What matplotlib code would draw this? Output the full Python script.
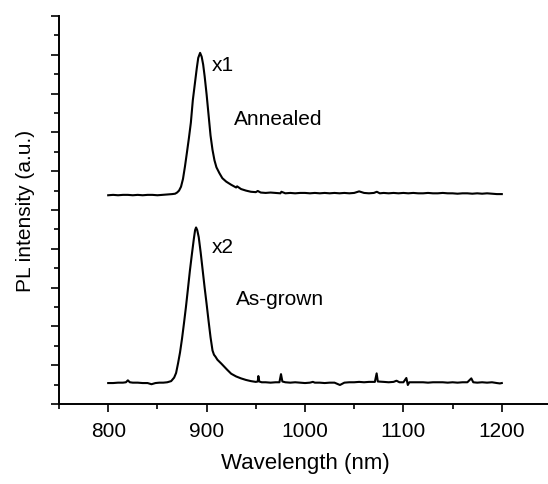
import matplotlib
matplotlib.use("Agg")
import matplotlib.pyplot as plt
from matplotlib.ticker import MultipleLocator, NullFormatter

plt.rcParams['font.family'] = ['Liberation Sans', 'DejaVu Sans']

# Annealed spectrum (offset upward)
wl_ann = [800, 805, 810, 815, 820, 825, 830, 835, 840, 845, 850, 855, 860, 865,
          868, 870, 872, 874, 876, 878, 880, 882, 884, 886, 888, 890, 891.5, 893.4,
          895, 896.5, 898, 900, 902, 904, 906, 908, 910, 913, 916, 920, 925,
          930, 931, 935, 940, 945, 950, 952, 955, 960, 965, 970, 975, 976,
          980, 985, 990, 995, 1000, 1005, 1010, 1015, 1020, 1025, 1030, 1035,
          1040, 1045, 1050, 1055, 1060, 1065, 1070, 1073, 1076, 1080, 1085,
          1090, 1095, 1100, 1105, 1110, 1115, 1120, 1125, 1130, 1135, 1140,
          1145, 1150, 1155, 1160, 1165, 1170, 1175, 1180, 1185, 1190, 1195, 1200]
pl_ann = [5.38, 5.39, 5.38, 5.39, 5.39, 5.38, 5.39, 5.38, 5.39, 5.39, 5.38, 5.39,
          5.40, 5.41, 5.42, 5.45, 5.50, 5.60, 5.80, 6.12, 6.48, 6.85, 7.25, 7.83,
          8.24, 8.65, 8.92, 9.05, 8.95, 8.75, 8.45, 7.98, 7.45, 6.92, 6.55, 6.28,
          6.10, 5.95, 5.82, 5.73, 5.65, 5.58, 5.61, 5.54, 5.50, 5.47, 5.46, 5.49,
          5.45, 5.44, 5.45, 5.44, 5.43, 5.47, 5.43, 5.44, 5.43, 5.44, 5.44, 5.43,
          5.44, 5.43, 5.44, 5.43, 5.44, 5.43, 5.44, 5.43, 5.44, 5.48, 5.44, 5.43,
          5.44, 5.47, 5.43, 5.44, 5.43, 5.44, 5.43, 5.44, 5.43, 5.44, 5.43, 5.43,
          5.44, 5.43, 5.43, 5.44, 5.43, 5.43, 5.42, 5.43, 5.43, 5.42, 5.43, 5.42,
          5.43, 5.42, 5.41, 5.41]

# As-grown spectrum
wl_asg = [800, 805, 810, 815, 818, 820, 822, 825, 830, 835, 840, 844, 848, 852,
          856, 860, 864, 867, 869, 871, 873, 875, 877, 879, 881, 883, 885, 887,
          888.3, 889.3, 890.5, 892, 894, 896, 898, 900, 902, 904, 906, 907.5,
          909, 911, 913, 915, 918, 921, 925, 930, 935, 940, 945, 950, 952,
          952.6, 953.5, 956, 960, 965, 970, 974, 975.6, 977, 980, 985, 990, 995,
          1000, 1005, 1008, 1010, 1015, 1020, 1025, 1030, 1035.5, 1040, 1045,
          1050, 1055, 1060, 1065, 1071, 1072.8, 1074, 1080, 1085, 1090, 1093,
          1096, 1100, 1103, 1104.5, 1106, 1110, 1115, 1120, 1125, 1130, 1135,
          1140, 1145, 1150, 1155, 1160, 1165, 1169, 1171, 1175, 1180, 1185,
          1190, 1195, 1198, 1200]
pl_asg = [0.54, 0.54, 0.55, 0.55, 0.56, 0.61, 0.56, 0.55, 0.55, 0.54, 0.54, 0.51,
          0.54, 0.55, 0.55, 0.56, 0.59, 0.68, 0.80, 1.05, 1.33, 1.68, 2.08, 2.50,
          2.96, 3.43, 3.85, 4.25, 4.48, 4.55, 4.48, 4.30, 3.90, 3.45, 3.00, 2.58,
          2.14, 1.72, 1.38, 1.27, 1.22, 1.14, 1.09, 1.04, 0.96, 0.88, 0.78, 0.71,
          0.66, 0.62, 0.59, 0.57, 0.58, 0.72, 0.58, 0.56, 0.56, 0.55, 0.56, 0.56,
          0.77, 0.58, 0.56, 0.55, 0.56, 0.55, 0.54, 0.55, 0.57, 0.55, 0.55, 0.54,
          0.55, 0.55, 0.49, 0.55, 0.56, 0.56, 0.57, 0.56, 0.57, 0.57, 0.79, 0.58,
          0.57, 0.56, 0.57, 0.60, 0.56, 0.56, 0.67, 0.49, 0.56, 0.56, 0.56, 0.56,
          0.55, 0.56, 0.56, 0.56, 0.55, 0.56, 0.55, 0.56, 0.56, 0.66, 0.56, 0.55,
          0.56, 0.55, 0.56, 0.54, 0.53, 0.54]

fig = plt.figure(figsize=(5.48, 4.85), dpi=100)
ax = fig.add_axes([59 / 548, 80 / 485, 492 / 548, 388 / 485])

ax.plot(wl_ann, pl_ann, color='black', linewidth=1.5)
ax.plot(wl_asg, pl_asg, color='black', linewidth=1.5)

ax.text(905, 8.74, "x1", fontsize=15, va='center', ha='left')
ax.text(928, 7.35, "Annealed", fontsize=15, va='center', ha='left')
ax.text(905, 4.06, "x2", fontsize=15, va='center', ha='left')
ax.text(930, 2.71, "As-grown", fontsize=15, va='center', ha='left')

ax.set_xlim(750, 1250)
ax.set_ylim(0, 10)
ax.xaxis.set_major_locator(MultipleLocator(100))
ax.xaxis.set_minor_locator(MultipleLocator(50))
ax.yaxis.set_major_locator(MultipleLocator(1))
ax.yaxis.set_minor_locator(MultipleLocator(0.5))
ax.yaxis.set_major_formatter(NullFormatter())

for s in ['top', 'right']:
    ax.spines[s].set_visible(False)
for s in ['left', 'bottom']:
    ax.spines[s].set_linewidth(1.4)

ax.tick_params(which='major', direction='out', length=6, width=1.2, labelsize=15)
ax.tick_params(which='minor', direction='out', length=3.5, width=1.2)
ax.tick_params(axis='x', pad=6)

ax.set_xlabel("Wavelength (nm)", fontsize=16, labelpad=9)
ax.set_ylabel("PL intensity (a.u.)", fontsize=15, labelpad=8)

fig.savefig("out.png", dpi=100)
